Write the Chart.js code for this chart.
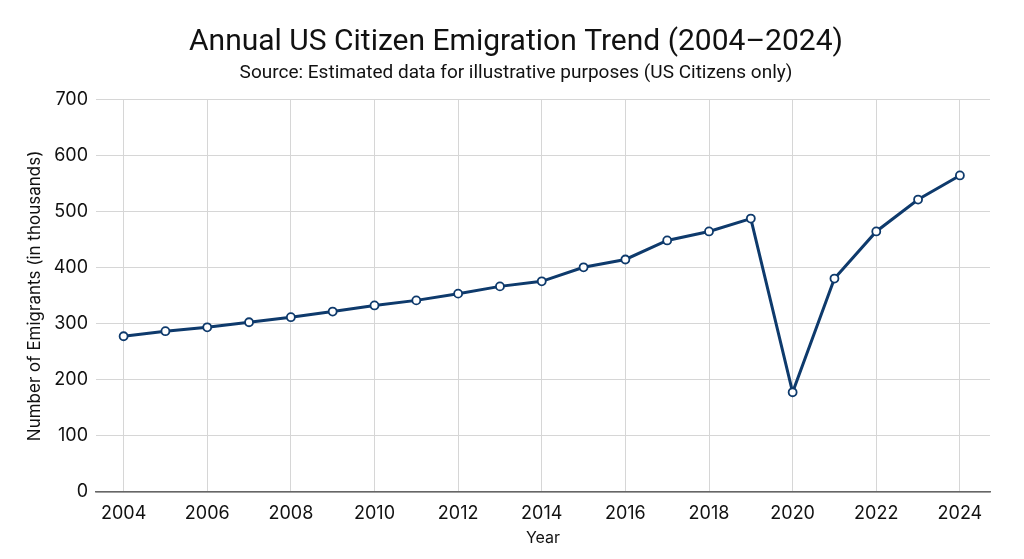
<!DOCTYPE html>
<html>
<head>
<meta charset="utf-8">
<script src="https://cdn.jsdelivr.net/npm/chart.js@4"></script>
<style>
    html, body { margin: 0; padding: 0; background: #fff; }
    #wrap { width: 1024px; height: 559px; }
</style>
</head>
<body>
<div id="wrap"><canvas id="chart"></canvas></div>
<script>
const years = [2004, 2005, 2006, 2007, 2008, 2009, 2010, 2011, 2012, 2013, 2014,
    2015, 2016, 2017, 2018, 2019, 2020, 2021, 2022, 2023, 2024];
const emigrants = [278, 287, 294, 303, 312, 322, 333, 342, 354, 367, 376,
    401, 415, 449, 465, 488, 178, 381, 465, 522, 565];
const yearTicks = [2004, 2006, 2008, 2010, 2012, 2014, 2016, 2018, 2020, 2022, 2024];

const navy = '#0e3a6c';
const tickFont = { family: 'Inter', size: 18 };

new Chart(document.getElementById('chart'), {
    type: 'line',
    data: {
        datasets: [{
            data: years.map((y, i) => ({ x: y, y: emigrants[i] })),
            borderColor: navy,
            borderWidth: 3,
            pointRadius: 4,
            pointBorderWidth: 1.8,
            pointBackgroundColor: '#fff',
            pointBorderColor: navy,
            tension: 0,
        }],
    },
    options: {
        responsive: true,
        maintainAspectRatio: false,
        animation: false,
        // left padding keeps the title centred at ~516 like the original
        layout: { padding: { left: 42, right: 34, top: 22, bottom: 0 } },
        plugins: {
            legend: { display: false },
            tooltip: { enabled: false },
            title: {
                display: true,
                text: 'Annual US Citizen Emigration Trend (2004–2024)',
                color: '#111',
                font: { family: 'Roboto', size: 30, weight: 'normal' },
                padding: { top: 2, bottom: 2 },
            },
            subtitle: {
                display: true,
                text: 'Source: Estimated data for illustrative purposes (US Citizens only)',
                color: '#111',
                font: { family: 'Roboto', size: 19 },
                padding: { top: 0, bottom: 15 },
            },
        },
        scales: {
            x: {
                type: 'linear',
                min: 2003.34,
                max: 2024.72,
                afterBuildTicks: (scale) => {
                    scale.ticks = yearTicks.map((v) => ({ value: v }));
                },
                afterFit: (scale) => { scale.height = 67; },
                ticks: {
                    color: '#111',
                    font: tickFont,
                    callback: (v) => String(v),
                    padding: 11,
                    maxRotation: 0,
                },
                grid: { color: '#d6d6d6', drawTicks: false },
                border: { color: '#666', width: 1.5 },
                title: {
                    display: true,
                    text: 'Year',
                    color: '#111',
                    font: { family: 'Inter', size: 16 },
                    padding: { top: 0, bottom: 11 },
                },
            },
            y: {
                min: 0,
                max: 700,
                afterFit: (scale) => { scale.width = 54; },
                ticks: {
                    stepSize: 100,
                    color: '#111',
                    font: tickFont,
                    padding: 8,
                },
                grid: { color: '#d6d6d6', drawTicks: false },
                border: { display: false },
                title: {
                    display: true,
                    text: 'Number of Emigrants (in thousands)',
                    color: '#111',
                    font: { family: 'Inter', size: 17 },
                    padding: { top: -17, bottom: 0 },
                },
            },
        },
    },
});
</script>
</body>
</html>
